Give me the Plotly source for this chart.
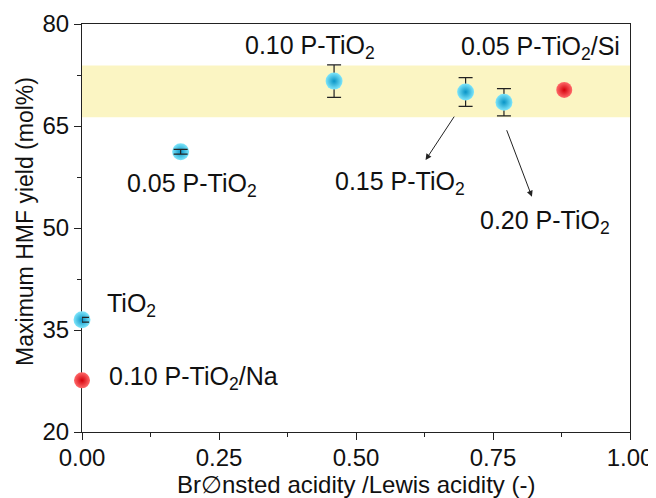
import plotly.graph_objects as go

# ---- data ----
sample_names = ["TiO<sub>2</sub>", "0.05 P-TiO<sub>2</sub>", "0.10 P-TiO<sub>2</sub>",
                "0.15 P-TiO<sub>2</sub>", "0.20 P-TiO<sub>2</sub>"]
ratio_blue = [0.0, 0.18, 0.46, 0.70, 0.77]
yield_blue = [36.5, 61.2, 71.6, 70.0, 68.5]
err_blue = [0.35, 0.35, 2.4, 2.1, 2.0]

red_names = ["0.10 P-TiO<sub>2</sub>/Na", "0.05 P-TiO<sub>2</sub>/Si"]
ratio_red = [0.0, 0.88]
yield_red = [27.6, 70.3]

band_range = [66.3, 73.9]

x_ticks = [0.0, 0.25, 0.5, 0.75, 1.0]
x_ticktext = ["0.00", "0.25", "0.50", "0.75", "1.00"]
y_ticks = [20, 35, 50, 65, 80]

x_title = "Br\u2205nsted acidity /Lewis acidity (-)"
y_title = "Maximum HMF yield (mol%)"

# label positions (data coords)
label_x = [0.091, 0.2016, 0.416, 0.58, 0.844, 0.2026, 0.836]
label_y = [38.7, 56.3, 76.6, 56.6, 50.9, 27.9, 76.5]

# arrows: tail (x,y) -> head (x,y)
arrow_tail_x = [0.681, 0.774]
arrow_tail_y = [66.6, 64.6]
arrow_head_x = [0.627, 0.821]
arrow_head_y = [60.0, 54.6]

FONT = "Liberation Sans, Arial, sans-serif"

fig = go.Figure()

big = [i for i, e in enumerate(err_blue) if e > 1]
small = [i for i, e in enumerate(err_blue) if e <= 1]

fig.add_trace(go.Scatter(
    x=ratio_blue, y=yield_blue, mode="markers", cliponaxis=False,
    error_y=dict(type="data", array=[err_blue[i] if i in big else 0 for i in range(len(err_blue))],
                 color="#222222", thickness=1.2, width=7),
    marker=dict(size=17, color="#7fe6fb", line=dict(width=0),
                gradient=dict(type="radial", color="#0894c6")),
    showlegend=False, hoverinfo="skip"))

fig.add_trace(go.Scatter(
    x=ratio_red, y=yield_red, mode="markers", cliponaxis=False,
    marker=dict(size=16, color="#ff6a6a", line=dict(width=0),
                gradient=dict(type="radial", color="#d4000b")),
    showlegend=False, hoverinfo="skip"))

# small error bars drawn on top of markers
fig.add_trace(go.Scatter(
    x=[ratio_blue[i] for i in small], y=[yield_blue[i] for i in small],
    mode="markers", cliponaxis=False,
    marker=dict(size=1, opacity=0),
    error_y=dict(type="data", array=[err_blue[i] for i in small],
                 color="#222222", thickness=1.2, width=7),
    showlegend=False, hoverinfo="skip"))

fig.add_shape(type="rect", xref="paper", yref="y", x0=0, x1=1,
              y0=band_range[0], y1=band_range[1],
              fillcolor="#fbf5c3", line=dict(width=0), layer="below")

all_labels = sample_names + red_names
for t, lx, ly in zip(all_labels, label_x, label_y):
    fig.add_annotation(x=lx, y=ly, xref="x", yref="y", text=t, showarrow=False,
                       xanchor="center", yanchor="middle",
                       font=dict(family=FONT, size=25, color="#111111"))

for tx, ty, hx, hy in zip(arrow_tail_x, arrow_tail_y, arrow_head_x, arrow_head_y):
    fig.add_annotation(x=hx, y=hy, ax=tx, ay=ty, xref="x", yref="y",
                       axref="x", ayref="y", text="", showarrow=True,
                       arrowhead=2, arrowsize=1.2, arrowwidth=1, arrowcolor="#222222")

# axis titles
fig.add_annotation(x=0.5, y=-0.128, xref="paper", yref="paper", text=x_title,
                   showarrow=False, xanchor="center", yanchor="middle",
                   font=dict(family=FONT, size=24, color="#111111"))
fig.add_annotation(x=-0.104, y=0.515, xref="paper", yref="paper", text=y_title,
                   showarrow=False, xanchor="center", yanchor="middle", textangle=-90,
                   font=dict(family=FONT, size=23, color="#111111"))

# page body has an 8px margin -> figure shifted; compensate
fig.update_layout(
    width=648, height=490,
    margin=dict(l=74, r=26, t=16, b=66),
    paper_bgcolor="white", plot_bgcolor="white",
    font=dict(family=FONT, size=24, color="#111111"),
    xaxis=dict(range=[0, 1], tickvals=x_ticks, ticktext=x_ticktext,
               ticks="outside", ticklen=7, tickwidth=1.2, tickcolor="#222",
               ticklabelstandoff=-3,
               minor=dict(ticks="outside", ticklen=4, dtick=0.125, tick0=0,
                          tickcolor="#222", tickwidth=1.2),
               showline=True, linecolor="#222", linewidth=1.2, mirror=True,
               showgrid=False, zeroline=False, layer="below traces",
               automargin=False, tickfont=dict(size=24)),
    yaxis=dict(range=[20, 80], tickvals=y_ticks,
               ticks="outside", ticklen=7, tickwidth=1.2, tickcolor="#222",
               minor=dict(ticks="outside", ticklen=4, dtick=7.5, tick0=20,
                          tickcolor="#222", tickwidth=1.2),
               showline=True, linecolor="#222", linewidth=1.2, mirror=True,
               showgrid=False, zeroline=False, layer="below traces",
               automargin=False, tickfont=dict(size=24)),
)

fig.write_html("out.html")
